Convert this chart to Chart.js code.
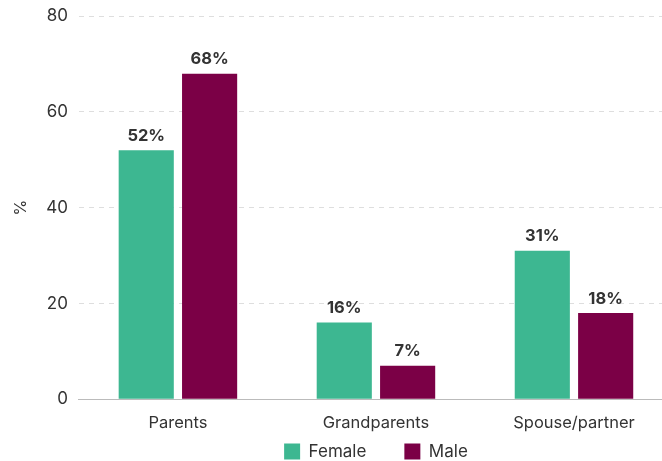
<!DOCTYPE html>
<html>
<head>
<meta charset="utf-8">
<script src="https://cdn.jsdelivr.net/npm/chart.js@4"></script>
<style>
  html, body { margin: 0; padding: 0; overflow: hidden; background: #fff; }
  #wrap { width: 673px; height: 466px; margin-top: -5px; position: relative; }
</style>
</head>
<body>
<div id="wrap"><canvas id="chart"></canvas></div>
<script>
const categories = ['Parents', 'Grandparents', 'Spouse/partner'];
const female = [52, 16, 31];
const male = [68, 7, 18];
const yTicks = [0, 20, 40, 60, 80];

const textColor = '#333333';
const fontFamily = 'Inter, "Noto Sans", sans-serif';

// writes the % value above each bar
const barLabels = {
  id: 'barLabels',
  afterDatasetsDraw(chart) {
    const ctx = chart.ctx;
    ctx.save();
    ctx.font = 'bold 16.5px ' + fontFamily;
    ctx.fillStyle = textColor;
    ctx.textAlign = 'center';
    ctx.textBaseline = 'bottom';
    chart.data.datasets.forEach((ds, i) => {
      chart.getDatasetMeta(i).data.forEach((bar, j) => {
        ctx.fillText(ds.data[j] + '%', bar.x, bar.y - 6);
      });
    });
    ctx.restore();
  }
};

new Chart(document.getElementById('chart'), {
  type: 'bar',
  data: {
    labels: categories,
    datasets: [
      { label: 'Female', data: female, backgroundColor: '#3db791' },
      { label: 'Male', data: male, backgroundColor: '#7b0046' }
    ]
  },
  options: {
    responsive: true,
    maintainAspectRatio: false,
    animation: false,
    categoryPercentage: 0.64,
    barPercentage: 0.87,
    layout: { padding: { top: 0, left: 8, right: 0, bottom: -9 } },
    plugins: {
      legend: {
        position: 'bottom',
        fullSize: false,
        labels: {
          boxWidth: 16, boxHeight: 16, padding: 4,
          color: textColor,
          font: { family: fontFamily, size: 17 },
          generateLabels(chart) {
            const items = Chart.defaults.plugins.legend.labels.generateLabels(chart);
            // wider gap between the two legend entries
            items[0].text = items[0].text + '\u2003\u2003';
            return items;
          }
        }
      },
      tooltip: { enabled: false }
    },
    scales: {
      x: {
        grid: { display: false },
        border: { color: '#bbbbbb', width: 1 },
        ticks: { color: textColor, font: { family: fontFamily, size: 16.5 }, padding: 6 }
      },
      y: {
        min: yTicks[0],
        max: yTicks[yTicks.length - 1],
        afterBuildTicks(scale) { scale.ticks = yTicks.map(v => ({ value: v })); },
        border: { display: false, dash: [5, 5] },
        grid: {
          color: ctx => ctx.tick && ctx.tick.value === 0 ? 'rgba(0,0,0,0)' : '#dedede',
          drawTicks: false
        },
        ticks: { color: textColor, font: { family: fontFamily, size: 17 }, padding: 11 },
        title: { display: true, text: '%', color: textColor, font: { family: fontFamily, size: 16 } }
      }
    }
  },
  plugins: [barLabels]
});
</script>
</body>
</html>
